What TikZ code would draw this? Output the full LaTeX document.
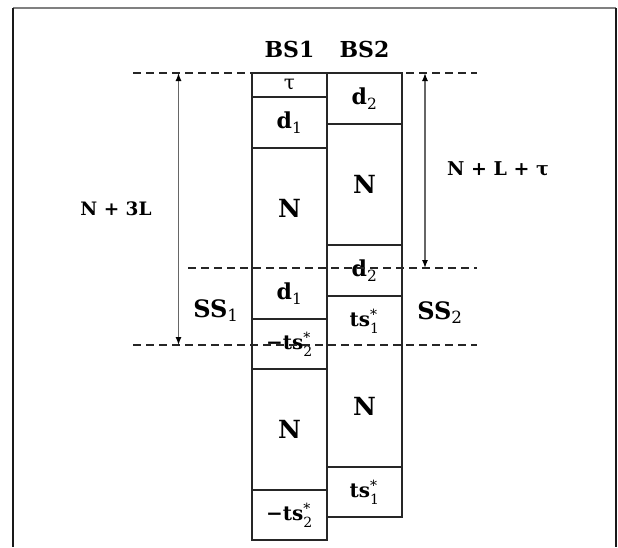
\documentclass[tikz,border=0pt]{standalone}
\usepackage{amsmath}
\usepackage{fontspec}
\setmainfont{DejaVu Serif}
\usetikzlibrary{arrows.meta}
% light-weight subscripts and a starred subscript
\newcommand\lsub[1]{$_{\text{\mdseries #1}}$}
\newcommand\starsub[1]{$^{\text{\mdseries *}}_{\text{\mdseries #1}}$}
\newcommand\fs[1]{\fontsize{#1}{#1}\selectfont}
\begin{document}
\begin{tikzpicture}[x=1pt,y=-1pt,font=\bfseries,
  cell/.style={minimum width=75pt,minimum height=#1,inner sep=0pt,outer sep=0pt},
  rule/.style={line width=1.2pt,draw=black!85},
  guide/.style={line width=1.8pt,draw=black!85,dash pattern=on 8pt off 5pt},
  span/.style={line width=1.3pt,draw=black!60,
    {Latex[length=8pt,width=6pt,color=black]}-{Latex[length=8pt,width=6pt,color=black]}},
  frame/.style={line width=1.4pt}]
\useasboundingbox (0,0) rectangle (618,547);

% outer frame, open at the bottom
\draw[frame,black!50] (13,8) -- (616,8);
\draw[frame,black!90] (13,8) -- (13,547);
\draw[frame,black!90] (616,8) -- (616,547);

% column headings
\node[anchor=base,font=\bfseries\fs{22}] (bs1) at (289.5,57) {BS1};
\node[anchor=base,font=\bfseries\fs{22}] (bs2) at (364.5,57) {BS2};

% BS1 column
\node[cell=24pt,font=\mdseries\fs{20}] (tau) at (289.5,85) {τ};
\node[cell=51pt,font=\bfseries\fs{22}] (d1a) at (289.5,122.5) {d\lsub{1}};
\node[cell=120pt,font=\bfseries\fs{25}] (n1a) at (289.5,208) {N};
\node[cell=51pt,font=\bfseries\fs{22}] (d1b) at (289.5,293.5) {d\lsub{1}};
\node[cell=50pt,font=\bfseries\fs{20}] (ts2a) at (289.5,344) {−ts\starsub{2}};
\node[cell=121pt,font=\bfseries\fs{25}] (n1b) at (289.5,429.5) {N};
\node[cell=50pt,font=\bfseries\fs{20}] (ts2b) at (289.5,515) {−ts\starsub{2}};

% BS2 column
\node[cell=51pt,font=\bfseries\fs{22}] (d2a) at (364.5,98.5) {d\lsub{2}};
\node[cell=121pt,font=\bfseries\fs{25}] (n2a) at (364.5,184.5) {N};
\node[cell=51pt,font=\bfseries\fs{22}] (d2b) at (364.5,270.5) {d\lsub{2}};
\node[cell=50pt,font=\bfseries\fs{20}] (ts1a) at (364.5,321) {ts\starsub{1}};
\node[cell=121pt,font=\bfseries\fs{25}] (n2b) at (364.5,406.5) {N};
\node[cell=50pt,font=\bfseries\fs{20}] (ts1b) at (364.5,492) {ts\starsub{1}};

% column outlines and cell separators
\draw[rule] (tau.north west) rectangle (ts2b.south east);
\draw[rule] (d2a.north west) rectangle (ts1b.south east);
\foreach \c in {tau,d1a,d1b,ts2a,n1b}
  \draw[rule] (\c.south west) -- (\c.south east);
\foreach \c in {d2a,n2a,d2b,n2b}
  \draw[rule] (\c.south west) -- (\c.south east);

% timing reference lines
\coordinate (ga1) at (133,73);  \coordinate (ga2) at (477,73);
\coordinate (gb1) at (188,268); \coordinate (gb2) at (477,268);
\coordinate (gc1) at (133,345); \coordinate (gc2) at (477,345);
\draw[guide] (ga1) -- (ga2);
\draw[guide] (gb1) -- (gb2);
\draw[guide] (gc1) -- (gc2);

% spans
\coordinate (la) at (178.5,73);  \coordinate (lb) at (178.5,345);
\coordinate (ra) at (425,73);    \coordinate (rb) at (425,268);
\draw[span] (la) -- (lb);
\draw[span] (ra) -- (rb);

% span and subframe labels
\node[font=\bfseries\fs{18.5}] (n3l) at (116,209) {N + 3L};
\node[font=\bfseries\fs{19}] (nlt) at (498,169) {N + L + τ};
\node[font=\bfseries\fs{24}] (ss1) at (216,311) {SS\lsub{1}};
\node[font=\bfseries\fs{24}] (ss2) at (440,313) {SS\lsub{2}};
\end{tikzpicture}
\end{document}
